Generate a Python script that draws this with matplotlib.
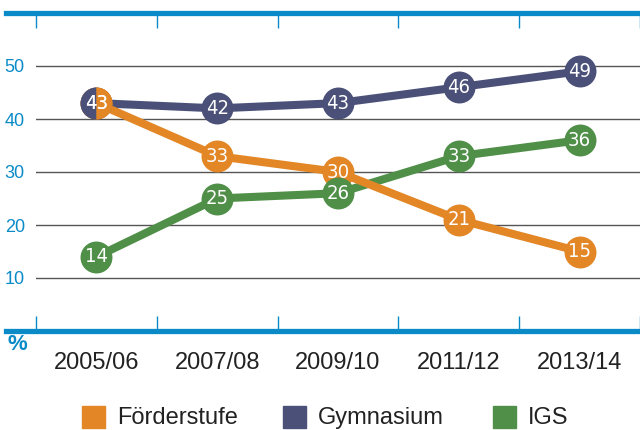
import matplotlib.pyplot as plt
from matplotlib.lines import Line2D
from matplotlib.patches import Rectangle

years = ["2005/06", "2007/08", "2009/10", "2011/12", "2013/14"]
foerderstufe = [43, 33, 30, 21, 15]
gymnasium = [43, 42, 43, 46, 49]
igs = [14, 25, 26, 33, 36]
yticks = [10, 20, 30, 40, 50]

ORANGE = "#E38625"
NAVY = "#4A5078"
GREEN = "#4F8F48"
BLUE = "#0A8BC8"

plt.rcParams["font.family"] = ["Liberation Sans", "DejaVu Sans"]

fig = plt.figure(figsize=(6.4, 4.3), dpi=100)
ax = fig.add_axes([36 / 640, 1 - 331 / 430, 1 - 36 / 640, 318 / 430])
ax.set_xlim(-0.5, 4.5)
ax.set_ylim(0, 60)
for s in ax.spines.values():
    s.set_visible(False)

x = list(range(len(years)))

# grid
for y in yticks:
    ax.axhline(y, color="#555555", lw=1.0, zorder=1)

# lines
series = [(gymnasium, NAVY), (igs, GREEN), (foerderstufe, ORANGE)]
for vals, c in series:
    ax.plot(x, vals, color=c, lw=5.8, solid_capstyle="round", zorder=2)

# markers + labels
for vals, c in [(gymnasium, NAVY), (foerderstufe, ORANGE), (igs, GREEN)]:
    ax.plot(x, vals, "o", color=c, ms=23, mec="none", zorder=3)
    for xi, v in zip(x, vals):
        ax.text(xi, v, str(v), color="white", ha="center", va="center",
                fontsize=14.5, fontstretch="condensed", family="DejaVu Sans",
                zorder=5)

# shared points: split circle
for xi, (g, f) in enumerate(zip(gymnasium, foerderstufe)):
    if g == f:
        ax.plot(xi, g, "o", ms=23, mec="none", fillstyle="left",
                color=NAVY, markerfacecoloralt=ORANGE, zorder=4)

# blue frame lines and separators
for yy in (13, 331):
    fig.add_artist(Line2D([6 / 640, 1], [1 - yy / 430] * 2, color=BLUE, lw=3.8))
bounds = [i - 0.5 for i in range(len(years) + 1)]
ax.vlines(bounds, 57.2, 60, color=BLUE, lw=1.0, clip_on=False)
ax.vlines(bounds, 0, 2.8, color=BLUE, lw=1.0, clip_on=False)

ax.set_yticks(yticks)
ax.set_yticklabels([str(t) for t in yticks])
ax.tick_params(axis="y", length=0, pad=8, labelcolor=BLUE, labelsize=13)
ax.set_xticks(x)
ax.set_xticklabels(years)
ax.tick_params(axis="x", length=0, pad=15, labelcolor="#222222", labelsize=17)

fig.text(7 / 640, 1 - 345 / 430, "%", color=BLUE, fontsize=16,
         fontweight="bold", va="center", ha="left")

# legend
legend_items = [("Förderstufe", ORANGE, 82), ("Gymnasium", NAVY, 283), ("IGS", GREEN, 493)]
for name, c, px in legend_items:
    fig.add_artist(Rectangle((px / 640, 1 - 428 / 430), 23 / 640, 22 / 430,
                             color=c, transform=fig.transFigure))
    fig.text((px + 35) / 640, 1 - 418 / 430, name, fontsize=17,
             color="#222222", va="center", ha="left")

fig.savefig("out.png", dpi=100)
